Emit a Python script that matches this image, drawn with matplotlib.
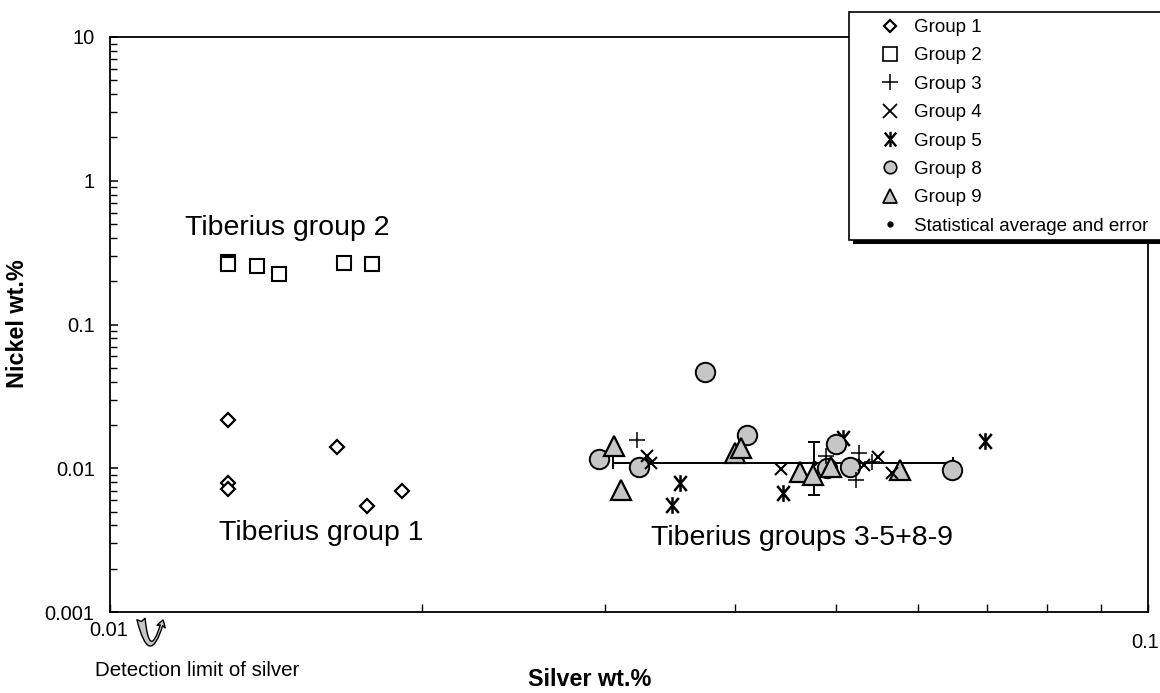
import matplotlib
matplotlib.use("Agg")
import matplotlib.pyplot as plt
from matplotlib.lines import Line2D
from matplotlib.path import Path
from matplotlib.patches import FancyArrowPatch, Rectangle
from matplotlib.ticker import FixedLocator, NullFormatter

plt.rcParams["font.family"] = ["Liberation Sans", "DejaVu Sans"]

# silver wt.% (x) and nickel wt.% (y)
g1_ag = [0.0130, 0.0130, 0.0130, 0.01654, 0.01768, 0.0191]
g1_ni = [0.02166, 0.0079, 0.00717, 0.01405, 0.00546, 0.00695]

g2_ag = [0.0130, 0.0130, 0.01385, 0.01455, 0.0168, 0.0179]
g2_ni = [0.272, 0.264, 0.255, 0.2245, 0.268, 0.264]

g3_ag = [0.0322, 0.0490, 0.0527, 0.0523, 0.0542]
g3_ni = [0.01572, 0.01217, 0.01277, 0.00829, 0.01105]

g4_ag = [0.0329, 0.0332, 0.0443, 0.0533, 0.0550, 0.0567]
g4_ni = [0.01217, 0.01088, 0.00988, 0.01053, 0.01198, 0.00927]

g5_ag = [0.0354, 0.0348, 0.0445, 0.0508, 0.0697]
g5_ni = [0.0079, 0.00555, 0.00673, 0.01623, 0.01547]

g8_ag = [0.0296, 0.0323, 0.0374, 0.0411, 0.0491, 0.0501, 0.0516, 0.0648]
g8_ni = [0.0116, 0.0102, 0.0467, 0.0170, 0.01004, 0.01475, 0.0102, 0.00972]

g9_ag = [0.0306, 0.0311, 0.0400, 0.0405, 0.0462, 0.0476, 0.0495, 0.0577]
g9_ni = [0.01428, 0.00706, 0.01277, 0.01383, 0.00942, 0.00898, 0.0102, 0.00972]

avg_ag, avg_ni = 0.0477, 0.0109
avg_ag_err, avg_ni_err = 0.0172, 0.0044

legend_labels = ["Group 1", "Group 2", "Group 3", "Group 4", "Group 5",
                 "Group 8", "Group 9", "Statistical average and error"]
y_ticks = [0.001, 0.01, 0.1, 1, 10]
y_tick_labels = ["0.001", "0.01", "0.1", "1", "10"]

GREY = "#c6c6c6"
# asterisk = X plus a vertical bar
ASTER = Path([(0, -1), (0, 1), (-0.75, -0.9), (0.75, 0.9), (-0.75, 0.9), (0.75, -0.9)],
             [Path.MOVETO, Path.LINETO] * 3)

W, H = 1160, 693
fig = plt.figure(figsize=(W / 100, H / 100), dpi=100)
ax = fig.add_axes([110 / W, 1 - 612 / H, 1038 / W, 575 / H])
ax.set_xscale("log")
ax.set_yscale("log")
ax.set_xlim(0.01, 0.1)
ax.set_ylim(0.001, 10)

ax.errorbar([avg_ag], [avg_ni], xerr=[avg_ag_err], yerr=[avg_ni_err],
            fmt="o", ms=3, color="black", ecolor="black", elinewidth=1.4,
            capsize=4, capthick=1.4, zorder=2)

ax.plot(g5_ag, g5_ni, ls="none", marker=ASTER, ms=12, mec="black", mew=1.8, zorder=3)
ax.plot(g8_ag, g8_ni, ls="none", marker="o", ms=14, mfc=GREY, mec="black", mew=1.4, zorder=4)
ax.plot(g9_ag, g9_ni, ls="none", marker="^", ms=15, mfc=GREY, mec="black", mew=1.6, zorder=5)
ax.plot(g3_ag, g3_ni, ls="none", marker="+", ms=11, mec="black", mew=1.1, zorder=6)
ax.plot(g4_ag, g4_ni, ls="none", marker="x", ms=9, mec="black", mew=1.5, zorder=6)
ax.plot(g1_ag, g1_ni, ls="none", marker="D", ms=7, mfc="white", mec="black", mew=1.6, zorder=6)
ax.plot(g2_ag, g2_ni, ls="none", marker="s", ms=10, mfc="white", mec="black", mew=1.5, zorder=6)

# axes styling
for sp in ax.spines.values():
    sp.set_linewidth(1.3)

ax.yaxis.set_major_locator(FixedLocator(y_ticks))
ax.set_yticklabels(y_tick_labels)
ax.tick_params(axis="y", which="major", direction="in", length=6, width=1.1,
               labelsize=14.4, pad=11)
ax.tick_params(axis="y", which="minor", direction="in", length=5, width=1.0)
ax.tick_params(axis="x", which="both", direction="in", length=6, width=1.0,
               labelbottom=False)
ax.xaxis.set_minor_formatter(NullFormatter())
ax.tick_params(which="both", right=False, top=False)

fig.text(109 / W, 1 - 631 / H, "0.01", ha="center", va="center", fontsize=14.4)
fig.text(1145 / W, 1 - 643 / H, "0.1", ha="center", va="center", fontsize=14.4)
fig.text(95 / W, 1 - 670 / H, "Detection limit of silver", ha="left",
         va="center", fontsize=14.8)
fig.text(590 / W, 1 - 680 / H, "Silver wt.%", ha="center", va="center",
         fontsize=16.8, fontweight="bold")
fig.text(18 / W, 1 - 324 / H, "Nickel wt.%", ha="center", va="center",
         rotation=90, fontsize=16.8, fontweight="bold")

ax.text(0.01181, 0.469, "Tiberius group 2", ha="left", va="center", fontsize=20.5)
ax.text(0.01274, 0.00354, "Tiberius group 1", ha="left", va="center", fontsize=20.5)
ax.text(0.0332, 0.00327, "Tiberius groups 3-5+8-9", ha="left", va="center", fontsize=20.5)

# curved arrow marking the silver detection limit
arrow = FancyArrowPatch((141, H - 619), (163, H - 620),
                        connectionstyle="arc3,rad=2.2", shrinkA=0, shrinkB=0,
                        arrowstyle="fancy,head_length=5,head_width=6,tail_width=6",
                        fc=GREY, ec="black", lw=1.0, transform=None, zorder=3)
fig.patches.append(arrow)

# legend box with a black drop shadow, partly cut by the figure edge
fig.patches.append(Rectangle((853 / W, 1 - 244 / H), 320 / W, 228 / H,
                             transform=fig.transFigure, fc="black", ec="none", zorder=3))
fig.patches.append(Rectangle((849 / W, 1 - 240 / H), 320 / W, 228 / H,
                             transform=fig.transFigure, fc="white", ec="black",
                             lw=1.2, zorder=3.1))

handles = [
    Line2D([], [], ls="none", marker="D", ms=6.5, mfc="white", mec="black", mew=1.6),
    Line2D([], [], ls="none", marker="s", ms=10, mfc="white", mec="black", mew=1.2),
    Line2D([], [], ls="none", marker="+", ms=12, mec="black", mew=1.1),
    Line2D([], [], ls="none", marker="x", ms=9.5, mec="black", mew=1.3),
    Line2D([], [], ls="none", marker=ASTER, ms=11, mec="black", mew=1.7),
    Line2D([], [], ls="none", marker="o", ms=9, mfc=GREY, mec="black", mew=1.2),
    Line2D([], [], ls="none", marker="^", ms=10.5, mfc=GREY, mec="black", mew=1.3),
    Line2D([], [], ls="none", marker="o", ms=3.5, color="black"),
]
leg = fig.legend(handles, legend_labels, loc="upper left",
                 bbox_to_anchor=(880.6 / W, 1 - 19 / H), fontsize=13.5,
                 frameon=False, borderpad=0, labelspacing=0.6,
                 handletextpad=0.8, borderaxespad=0, handlelength=1.0)
leg.set_zorder(4)

fig.savefig("out.png", dpi=100)
